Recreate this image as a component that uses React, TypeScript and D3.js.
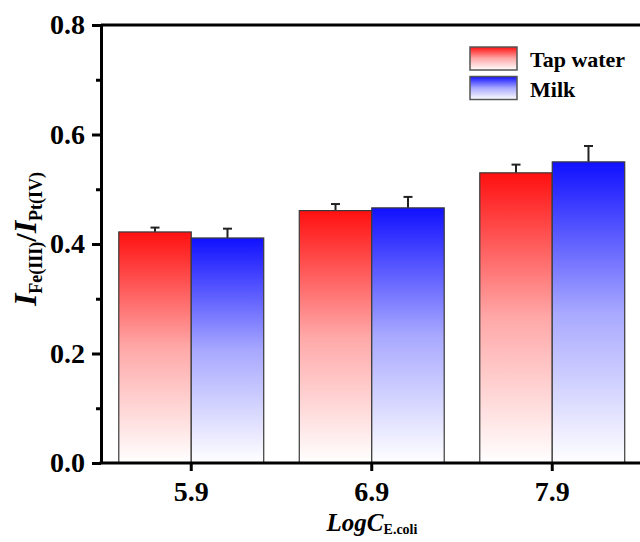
import React, { useEffect, useRef } from "react";
import * as d3 from "d3";

const categories = ["5.9", "6.9", "7.9"];
const tapWater = [0.422, 0.461, 0.53];
const tapWaterErr = [0.008, 0.012, 0.015];
const milk = [0.411, 0.466, 0.55];
const milkErr = [0.017, 0.02, 0.029];
const yTicks = [0, 0.2, 0.4, 0.6, 0.8];
const yMinorTicks = [0.1, 0.3, 0.5, 0.7];
const seriesNames = ["Tap water", "Milk"];

const W = 640;
const H = 542;
const FONT = "'Liberation Serif', 'Times New Roman', serif";

export default function App() {
  const ref = useRef<SVGSVGElement>(null);

  useEffect(() => {
    const svg = d3.select(ref.current);
    svg.selectAll("*").remove();

    const left = 101, right = 642.5, top = 25, bottom = 463;
    const x = d3.scaleBand<string>().domain(categories).range([left, right]).paddingInner(0.197).paddingOuter(0.0985);
    const y = d3.scaleLinear().domain([0, 0.8]).range([bottom, top]);

    const defs = svg.append("defs");
    const grads = [
      { id: "gRed", c0: "#ff1010", cm: "#ffa8a8", c1: "#ffffff" },
      { id: "gBlue", c0: "#1010ff", cm: "#a8a8ff", c1: "#ffffff" },
    ];
    grads.forEach((g) => {
      const lg = defs.append("linearGradient").attr("id", g.id).attr("x1", 0).attr("y1", 0).attr("x2", 0).attr("y2", 1);
      lg.append("stop").attr("offset", 0).attr("stop-color", g.c0);
      lg.append("stop").attr("offset", 0.5).attr("stop-color", g.cm);
      lg.append("stop").attr("offset", 1).attr("stop-color", g.c1);
    });

    const series = [
      { name: seriesNames[0], vals: tapWater, errs: tapWaterErr, fill: "url(#gRed)" },
      { name: seriesNames[1], vals: milk, errs: milkErr, fill: "url(#gBlue)" },
    ];
    const bw = x.bandwidth() / 2;

    series.forEach((s, si) => {
      const g = svg.append("g");
      g.selectAll("line.err")
        .data(categories)
        .join("line")
        .attr("x1", (c) => x(c)! + bw * si + bw / 2)
        .attr("x2", (c) => x(c)! + bw * si + bw / 2)
        .attr("y1", (c, i) => y(s.vals[i]))
        .attr("y2", (c, i) => y(s.vals[i] + s.errs[i]))
        .attr("stroke", "#222")
        .attr("stroke-width", 2);
      g.selectAll("line.cap")
        .data(categories)
        .join("line")
        .attr("x1", (c) => x(c)! + bw * si + bw / 2 - 4.5)
        .attr("x2", (c) => x(c)! + bw * si + bw / 2 + 4.5)
        .attr("y1", (c, i) => y(s.vals[i] + s.errs[i]))
        .attr("y2", (c, i) => y(s.vals[i] + s.errs[i]))
        .attr("stroke", "#222")
        .attr("stroke-width", 2);
      g.selectAll("rect")
        .data(categories)
        .join("rect")
        .attr("x", (c) => x(c)! + bw * si)
        .attr("width", bw)
        .attr("y", (c, i) => y(s.vals[i]))
        .attr("height", (c, i) => y(0) - y(s.vals[i]))
        .attr("fill", s.fill)
        .attr("stroke", "#3a3a3a")
        .attr("stroke-width", 1.2);
    });

    svg.append("line").attr("x1", left).attr("x2", W).attr("y1", top).attr("y2", top)
      .attr("stroke", "#000").attr("stroke-width", 3);

    const yAxis = svg.append("g").attr("transform", `translate(${left},0)`)
      .call(d3.axisLeft(y).tickValues(yTicks).tickSize(9).tickSizeOuter(0).tickPadding(7).tickFormat(d3.format(".1f")));
    const yMinor = svg.append("g").attr("transform", `translate(${left},0)`)
      .call(d3.axisLeft(y).tickValues(yMinorTicks).tickSize(5).tickSizeOuter(0).tickFormat(() => ""));
    yMinor.select(".domain").remove();
    [yAxis, yMinor].forEach((a) => {
      a.selectAll(".tick line").attr("stroke", "#000").attr("stroke-width", 3);
    });
    yAxis.select(".domain").attr("stroke", "#000").attr("stroke-width", 3);
    yAxis.selectAll(".tick text").attr("font-family", FONT).attr("font-weight", "bold").attr("font-size", 28).attr("fill", "#000");

    const xAxis = svg.append("g").attr("transform", `translate(0,${bottom})`)
      .call(d3.axisBottom(x).tickSize(8).tickSizeOuter(0).tickPadding(10));
    xAxis.select(".domain").remove();
    xAxis.selectAll(".tick line").attr("stroke", "#000").attr("stroke-width", 3);
    xAxis.selectAll(".tick text").attr("font-family", FONT).attr("font-weight", "bold").attr("font-size", 28).attr("fill", "#000");
    svg.append("line").attr("x1", left - 1.5).attr("x2", W).attr("y1", bottom).attr("y2", bottom)
      .attr("stroke", "#000").attr("stroke-width", 3);

    const xl = svg.append("text").attr("x", 372).attr("y", 531).attr("text-anchor", "middle")
      .attr("font-family", FONT).attr("font-weight", "bold").attr("fill", "#000");
    xl.append("tspan").attr("font-style", "italic").attr("font-size", 25).text("LogC");
    xl.append("tspan").attr("font-size", 14).attr("dy", 3).text("E.coli");

    const yl = svg.append("text").attr("transform", "translate(36,239) rotate(-90)").attr("text-anchor", "middle")
      .attr("font-family", FONT).attr("font-weight", "bold").attr("fill", "#000");
    yl.append("tspan").attr("font-style", "italic").attr("font-size", 32).text("I");
    yl.append("tspan").attr("font-size", 18).attr("dy", 6).text("Fe(III)");
    yl.append("tspan").attr("font-size", 30).attr("dy", -6).text("/");
    yl.append("tspan").attr("font-style", "italic").attr("font-size", 32).text("I");
    yl.append("tspan").attr("font-size", 18).attr("dy", 6).text("Pt(IV)");

    const lg = svg.append("g");
    series.forEach((s, i) => {
      const ly = 47 + i * 29.5;
      lg.append("rect").attr("x", 470).attr("y", ly).attr("width", 47).attr("height", 23)
        .attr("fill", s.fill).attr("stroke", "#555").attr("stroke-width", 1.5);
      lg.append("text").attr("x", 530).attr("y", ly + 20).attr("font-family", FONT)
        .attr("font-weight", "bold").attr("font-size", 22).attr("fill", "#000").text(s.name);
    });
  }, []);

  return (
    <div style={{ position: "absolute", left: 0, top: 0 }}>
      <svg ref={ref} width={W} height={H} style={{ display: "block", background: "#fff" }} />
    </div>
  );
}
